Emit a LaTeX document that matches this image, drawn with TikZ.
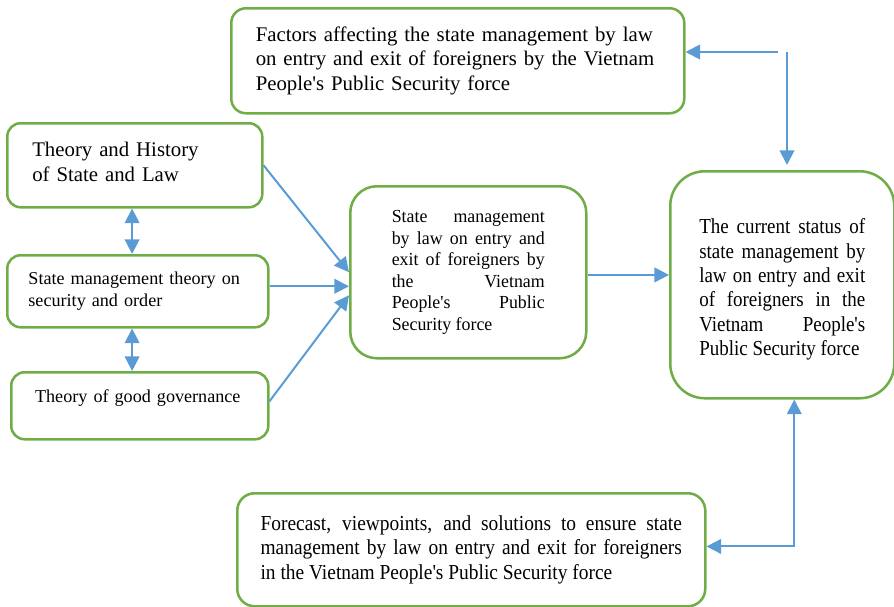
\documentclass[tikz,border=0pt]{standalone}
\usepackage{fontspec}
\setmainfont{Liberation Serif}
\newfontfamily\plainserif{Liberation Serif}
\newfontfamily\centerserif{Liberation Serif}[FakeStretch=0.97]
\newfontfamily\narrowserif{Liberation Serif}[FakeStretch=0.91]
\newfontfamily\narrowerserif{Liberation Serif}[FakeStretch=0.89]
\usepackage{tikz}
\usetikzlibrary{arrows.meta, positioning}
\definecolor{boxgreen}{HTML}{70AD47}
\definecolor{lineblue}{HTML}{5B9BD5}
\hyphenpenalty=10000
\exhyphenpenalty=10000
\tolerance=10000
\hbadness=10000
\hfuzz=3pt
\tikzset{
    block/.style={rectangle, draw=boxgreen, line width=1.9pt, rounded corners=10pt, fill=white, anchor=north west, inner ysep=2pt},
    bigtext/.style={font=\plainserif\fontsize{15.6pt}{18.5pt}\selectfont},
    smalltext/.style={font=\plainserif\fontsize{13.6pt}{16.5pt}\selectfont},
    midtext/.style={font=\centerserif\fontsize{13.8pt}{16.1pt}\selectfont},
    narrowtext/.style={font=\narrowserif\fontsize{16pt}{18.6pt}\selectfont},
    arrow/.style={draw=lineblue, line width=1.5pt, -{Triangle[length=11pt, width=11pt]}},
    dblarrow/.style={arrow, {Triangle[length=11pt, width=11pt]}-{Triangle[length=11pt, width=11pt]}}
}

\begin{document}
\begin{tikzpicture}[x=0.75pt, y=-0.75pt]
    \useasboundingbox (0,0) rectangle (894,607);

    % Top box
    \node (factors) [block, bigtext, rounded corners=11pt, minimum width=339.75pt, minimum height=78.75pt, text width=303pt, inner xsep=18.3pt, align=left] at (230,7) {Factors affecting the state management by law on entry and exit of foreigners by the Vietnam People's Public Security force};

    % Left column
    \node (theory) [block, bigtext, minimum width=191.25pt, minimum height=63pt, text width=153.75pt, inner xsep=18.75pt, text height=6pt, align=left] at (6,122) {Theory and History\\of State and Law};
    \node (smt) [block, smalltext, minimum width=195.75pt, minimum height=54pt, text width=164pt, inner xsep=15.8pt, align=left] at (6,254) {State management theory on\\security and order};
    \node (goodgov) [block, smalltext, minimum width=192.75pt, minimum height=50.25pt, text width=164pt, inner xsep=14.3pt, text depth=14pt, align=left] at (10,371) {\hspace*{3.5pt}Theory of good governance};

    % Middle and right
    \node (center) [block, midtext, rounded corners=20pt, minimum width=177pt, minimum height=129pt, text width=114.75pt, align=justify] at (349,185) {State management\linebreak by law on entry and\linebreak exit of foreigners by\linebreak the Vietnam\linebreak People's Public\linebreak Security force};
    \node (status) [block, font=\narrowerserif\fontsize{16pt}{18.3pt}\selectfont, rounded corners=26pt, minimum width=168pt, minimum height=170.25pt, text width=124.5pt, text height=18.4pt, align=justify] at (669,170) {The current status of\linebreak state management by\linebreak law on entry and exit\linebreak of foreigners in the\linebreak Vietnam People's\linebreak Public Security force};

    % Bottom box
    \node (forecast) [block, narrowtext, rounded corners=13pt, minimum width=351pt, minimum height=84.75pt, text width=316pt, align=justify] at (236,492) {Forecast, viewpoints, and solutions to ensure state management by law on entry and exit for foreigners in the Vietnam People's Public Security force};

    \draw [dblarrow] ([xshift=-2pt]theory.south) -- ([xshift=-2pt]theory.south |- smt.north);
    \draw [dblarrow] ([xshift=-2pt]theory.south |- smt.south) -- ([xshift=-2pt]theory.south |- goodgov.north);

    \draw [arrow] (theory.east) -- (center.west);
    \draw [arrow] ([yshift=3.75pt]smt.east) -- ([yshift=-10.5pt]center.west);
    \draw [arrow] ([yshift=3.4pt]goodgov.east) -- ([yshift=-17.25pt]center.west);
    \draw [arrow] ([yshift=-2pt]center.east) -- ([yshift=-2pt]center.east -| status.west);

    \coordinate (split) at (778,52);
    \coordinate (drop) at (787,52);
    \draw [arrow] (split) -- (split -| factors.east);
    \draw [arrow, shorten >=3.75pt] (drop) -- (drop |- status.north);

    \draw [dblarrow] ([yshift=2.5pt]forecast.east) -| ([xshift=9pt]status.south);
\end{tikzpicture}
\end{document}
